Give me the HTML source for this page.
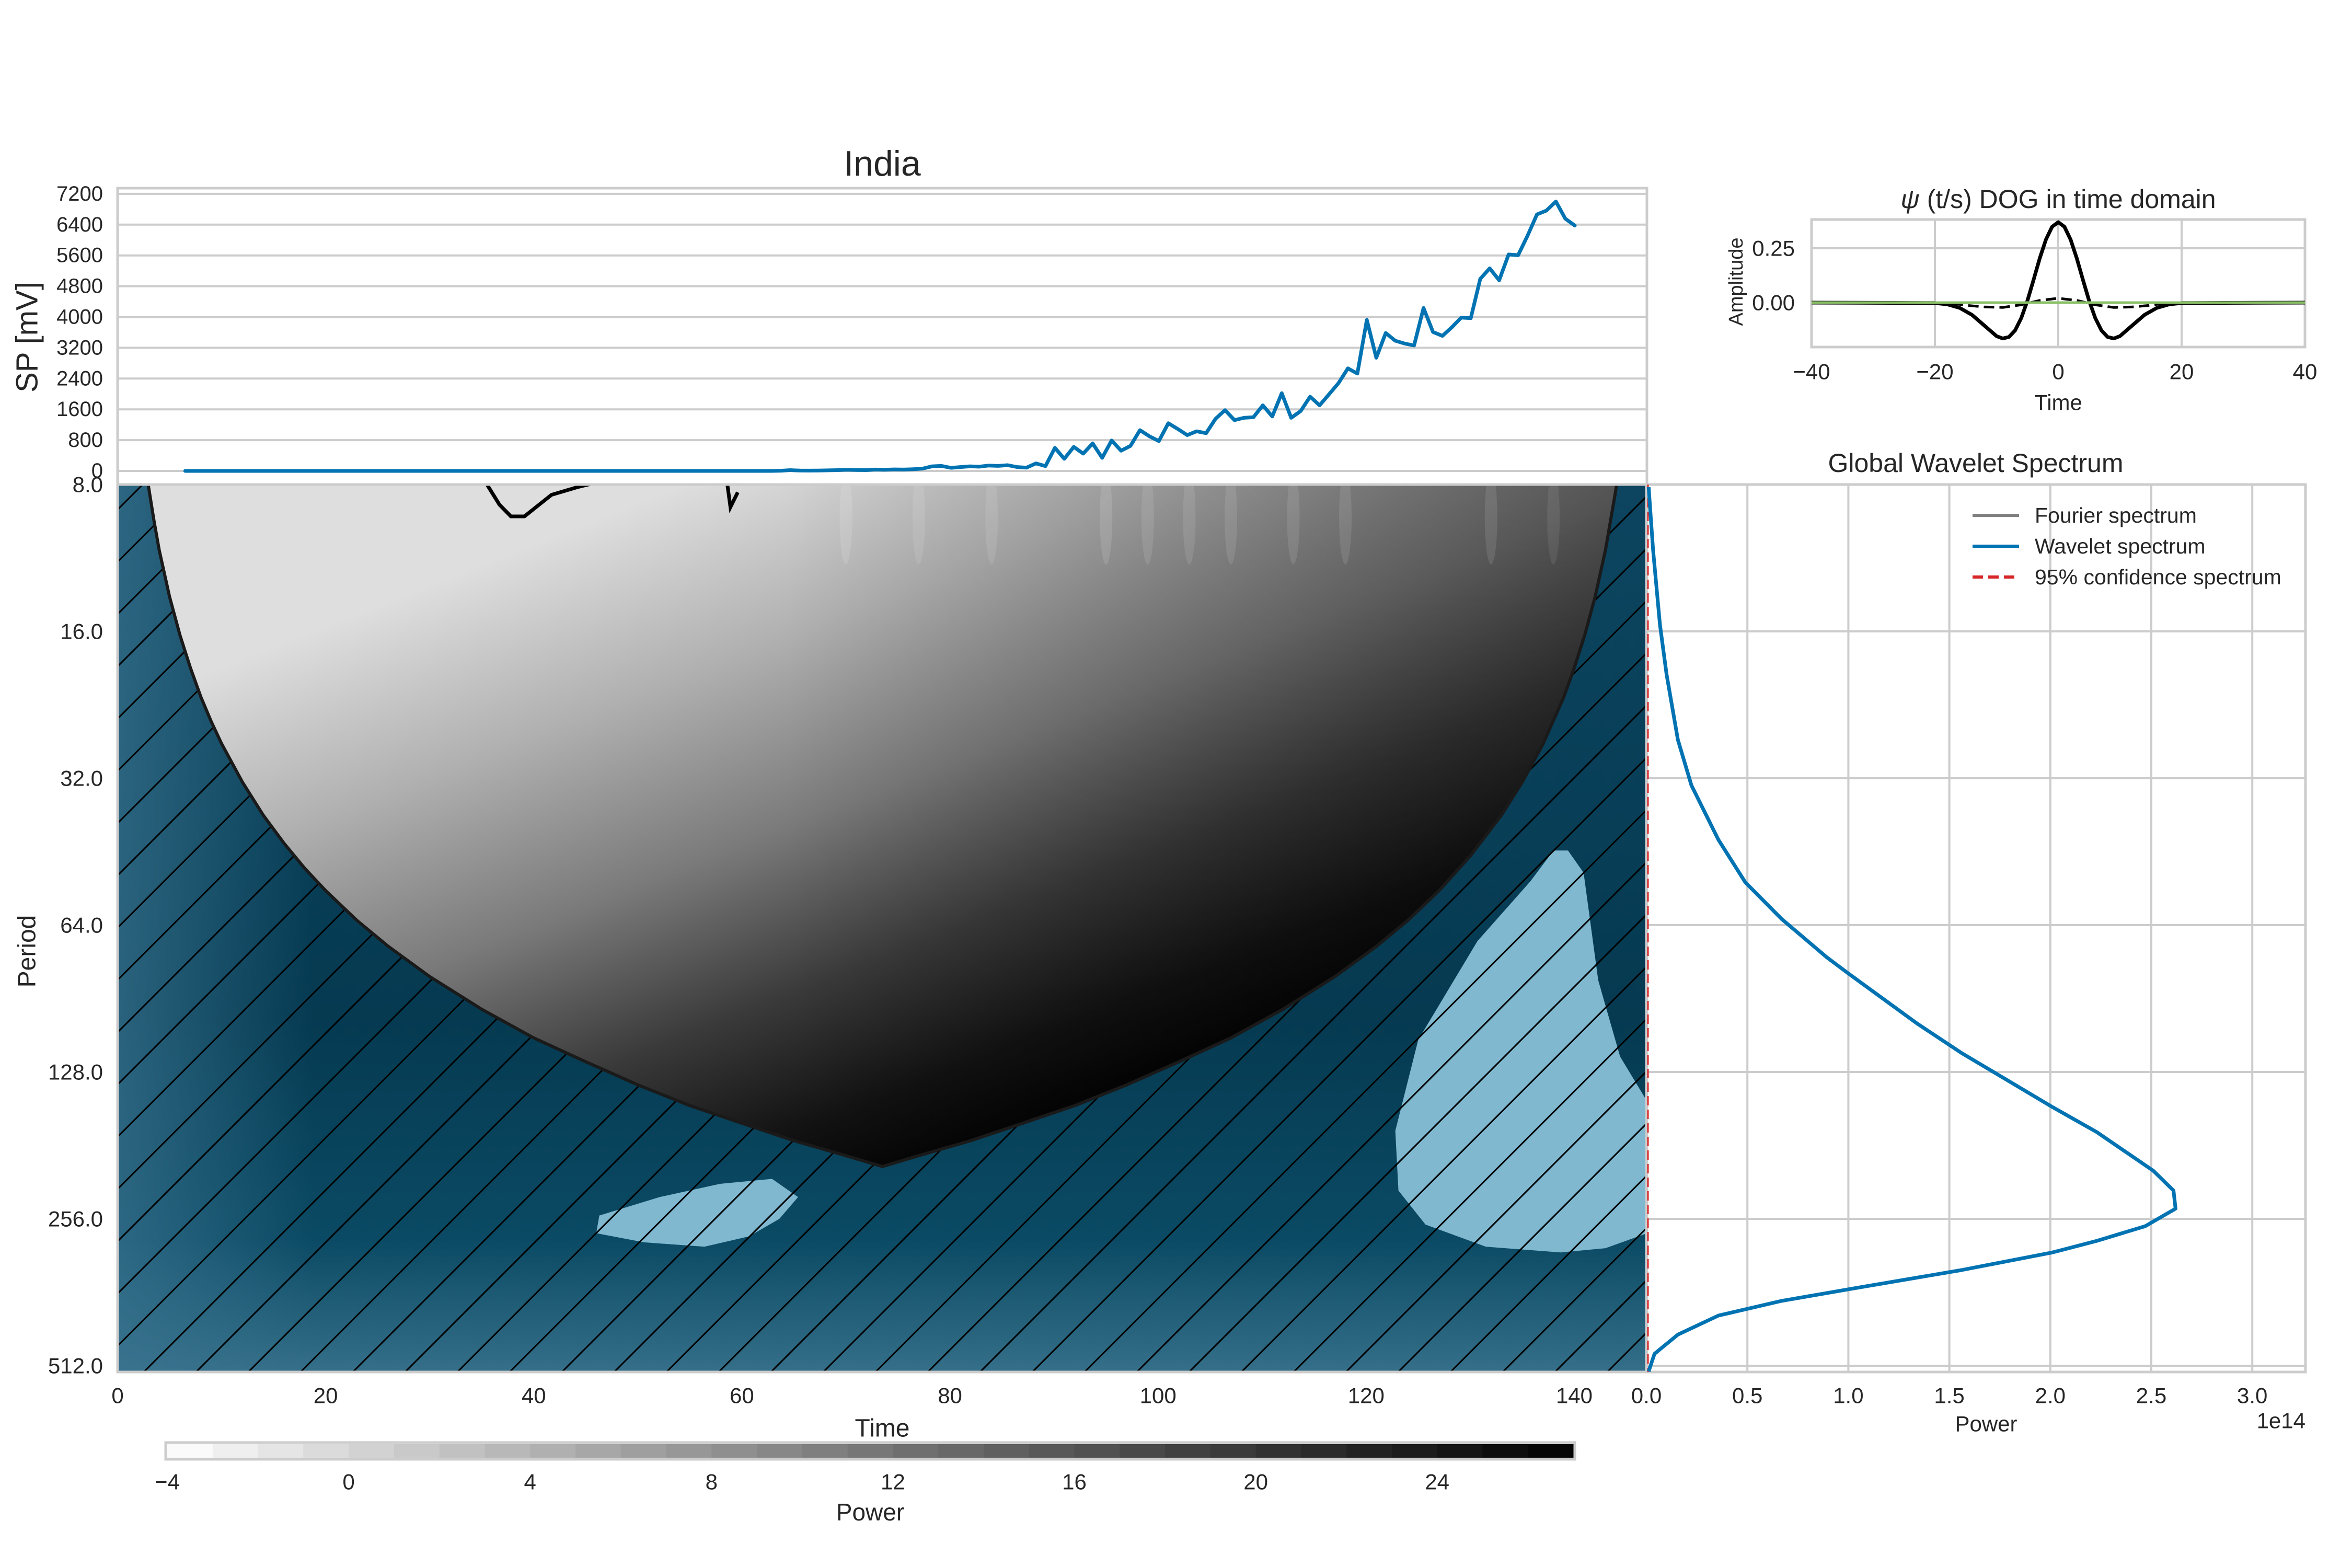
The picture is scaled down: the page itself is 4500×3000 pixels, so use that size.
<!DOCTYPE html>
<html><head><meta charset="utf-8"><style>
html,body{margin:0;padding:0;background:#fff;}
svg{display:block;font-family:"Liberation Sans",sans-serif;}
</style></head><body>
<svg id="fig" width="4500" height="3000" viewBox="0 0 4500 3000" xmlns="http://www.w3.org/2000/svg">
<defs>
<pattern id="hatch" patternUnits="userSpaceOnUse" width="100" height="100">
<path d="M-10,110 L110,-10 M-60,60 L60,-60 M40,160 L160,40" stroke="#000" stroke-width="3"/>
</pattern>
<linearGradient id="tealV" x1="0" y1="927" x2="0" y2="2625" gradientUnits="userSpaceOnUse">
<stop offset="0" stop-color="#0d4560"/><stop offset="0.6" stop-color="#053a51"/><stop offset="0.85" stop-color="#0b4a64"/><stop offset="1" stop-color="#356f89"/>
</linearGradient>
<linearGradient id="tealH" x1="225" y1="0" x2="600" y2="0" gradientUnits="userSpaceOnUse">
<stop offset="0" stop-color="#3a7490" stop-opacity="0.7"/><stop offset="1" stop-color="#3a7490" stop-opacity="0"/>
</linearGradient>
<linearGradient id="grayG" x1="1300" y1="930" x2="1800" y2="2200" gradientUnits="userSpaceOnUse">
<stop offset="0" stop-color="#dedede"/><stop offset="0.25" stop-color="#b0b0b0"/><stop offset="0.5" stop-color="#7a7a7a"/><stop offset="0.72" stop-color="#3a3a3a"/><stop offset="0.9" stop-color="#121212"/><stop offset="1" stop-color="#050505"/>
</linearGradient>
<linearGradient id="grayR" x1="1500" y1="0" x2="3100" y2="0" gradientUnits="userSpaceOnUse">
<stop offset="0" stop-color="#000" stop-opacity="0"/><stop offset="1" stop-color="#000" stop-opacity="0.33"/>
</linearGradient>
<clipPath id="mainClip"><rect x="225" y="927" width="2926" height="1698"/></clipPath>
</defs>
<g id="root"></g>
</svg>
<script>
// ---- data ----
var seriesValues = [0,0,0,0,0,0,0,0,0,0,0,0,0,0,0,0,0,0,0,0,0,0,0,0,0,0,0,0,0,0,0,0,0,0,0,0,0,0,0,0,0,0,0,0,0,0,0,0,0,0,0,0,0,0,0,0,0,0,0,0,0,0,0,5,20,10,8,10,15,20,30,25,20,35,30,40,35,45,60,120,130,80,100,120,110,140,130,150,
100,85,195,125,600,315,625,450,715,340,790,525,650,1060,900,775,1240,1090,930,1030,980,1355,1580,1320,1380,1395,1705,1415,2020,1380,1555,1930,1705,1990,2280,2665,2530,3925,2940,3585,3385,3310,3260,4235,3610,3510,3735,3985,3970,4990,5265,4955,5625,5605,6110,6665,6765,7000,6555,6375];
var seriesStart = 6.5, seriesStep = 0.9085;
var topTicks = [0,800,1600,2400,3200,4000,4800,5600,6400,7200];
var timeTicks = [0,20,40,60,80,100,120,140];
var periodTicks = [8,16,32,64,128,256,512];
var coiTimes = [0,1,2,2.9,3.5,4,5,6,7,8,9,10,12,14,16,18,20,23,26,30,35,40,45,50,55,60,65,70,73.5,77,82,87,92,97,102,107,112,117,121,124,127,130,133,135,137,139,140,141,142,143,144,144.1,145,146,147];
var coiPeriods = [1,2.7,5.4,7.9,9.5,10.9,13.6,16.3,19,21.8,24.5,27.2,32.6,38.1,43.5,49,54.4,62.6,70.7,81.6,95.2,109,122,136,150,163,177,190,200,190,177,163,150,136,122,109,95.2,81.6,70.7,62.6,54.4,46.2,38.1,32.6,27.2,21.8,19,16.3,13.6,10.9,8.2,7.9,5.4,2.7,1];
var blob1T = [46,46.3,52.1,57.9,62.9,65.4,63.6,60.7,56.4,50.6];
var blob1P = [274,252,231,217,212,231,256,278,292,286];
var blob2T = [139.4,140.9,142.3,144.4,147,147,143,138.7,131.5,125.7,123.1,122.8,125,130.7,135.8,138];
var blob2P = [45,50,83,119,147,274,294,300,292,263,224,169,110,69,52,45];
var contour1T = [35.5,36.7,37.8,39.1,41.7,44.2,46.3];
var contour1P = [8,8.8,9.3,9.3,8.4,8.1,7.9];
var contour2T = [58.6,58.9,59.6];
var contour2P = [8,8.9,8.3];
var gwsPeriods = [8.1,10.9,15.5,19.6,26.7,33.1,42.8,52.3,62.2,74.5,80.4,101.8,117,151,170,204,224,244,265,284,300,326,357,377,404,442,484,526];
var gwsPower = [0.011,0.033,0.067,0.10,0.156,0.223,0.357,0.49,0.67,0.893,1.0,1.34,1.56,2.01,2.23,2.51,2.61,2.62,2.47,2.23,2.01,1.56,1.0,0.67,0.357,0.156,0.04,0.011];
var gwsTicks = [0,0.5,1.0,1.5,2.0,2.5,3.0];
var dogT = [-40,-20,-18,-16,-14,-12,-10,-9,-8,-7,-6,-5,-4,-3,-2,-1,0,1,2,3,4,5,6,7,8,9,10,12,14,16,18,20,40];
var dogReal = [0,-0.002,-0.008,-0.024,-0.056,-0.105,-0.154,-0.165,-0.158,-0.128,-0.071,0.009,0.105,0.204,0.29,0.349,0.37,0.349,0.29,0.204,0.105,0.009,-0.071,-0.128,-0.158,-0.165,-0.154,-0.105,-0.056,-0.024,-0.008,-0.002,0];
var dogImagT = [-40,-18,-15,-12,-9,-6,-3,0,3,6,9,12,15,18,40];
var dogImag = [0,0,-0.012,-0.02,-0.022,-0.01,0.01,0.02,0.01,-0.01,-0.022,-0.02,-0.012,0,0];
var dogXTicks = [-40,-20,0,20,40];
var dogYTicks = [0.25,0.00];
var cbarTicks = [-4,0,4,8,12,16,20,24];
var cbarMin = -4, cbarMax = 27;

// ---- helpers ----
var NS = "http://www.w3.org/2000/svg";
var root = document.getElementById('root');
function el(tag, attrs, parent){ var e=document.createElementNS(NS,tag); for(var k in attrs) e.setAttribute(k,attrs[k]); (parent||root).appendChild(e); return e; }
function txt(s, x, y, size, anchor, parent, extra){ var t=el('text',{x:x,y:y,'font-size':size,'text-anchor':anchor||'middle','dominant-baseline':'central',fill:'#262626'},parent); if(extra) for(var k in extra) t.setAttribute(k,extra[k]); t.textContent=s; return t; }
function X(t){ return 225 + t*19.907; }
function YP(p){ return 927 + Math.log2(p/8)*281; }
function YT(v){ return 901 - v/800*58.9; }
function XG(P){ return 3150 + P*386.4; }
function XD(t){ return 3938 + t*11.8; }
function YD(a){ return 579 - a*416; }
function pathFrom(xs, ys, fx, fy, close){ var d=''; for(var i=0;i<xs.length;i++){ d+=(i?'L':'M')+fx(xs[i]).toFixed(1)+','+fy(ys[i]).toFixed(1); } return d+(close?'Z':''); }

// ---- title ----
var title = txt('India', 1688, 313, 68);



// ---- top series panel ----
var topG = el('g',{});


topTicks.forEach(function(v){
  var g = el('line',{x1:225,x2:3151,y1:YT(v),y2:YT(v),stroke:'#cccccc','stroke-width':4},topG);
  
  
  var l = txt(String(v), 197, YT(v), 40, 'end', topG);
  
  
});
var tb = el('rect',{x:225,y:360,width:2926,height:567,fill:'none',stroke:'#cccccc','stroke-width':5},topG);


var ts = seriesValues.map(function(_,i){ return seriesStart + i*seriesStep; });
var sl = el('path',{d:pathFrom(ts, seriesValues, X, YT), fill:'none', stroke:'#0173b2','stroke-width':7,'stroke-linejoin':'round','stroke-linecap':'round'},topG);


var spl = txt('SP [mV]', 52, 645, 58, 'middle', topG, {transform:'rotate(-90 52 645)'});



// ---- main wavelet panel ----
var mainG = el('g',{'clip-path':'url(#mainClip)'});


var bg1 = el('rect',{x:225,y:927,width:2926,height:1698,fill:'url(#tealV)'},mainG);


var bg2 = el('rect',{x:225,y:927,width:400,height:1698,fill:'url(#tealH)'},mainG);


var coiD = pathFrom(coiTimes, coiPeriods, X, YP, true);
var cone = el('path',{d:coiD, fill:'url(#grayG)'},mainG);


var cone2 = el('path',{d:coiD, fill:'url(#grayR)'},mainG);


[[70,0.12],[77,0.1],[84,0.1],[95,0.12],[99,0.1],[103,0.1],[107,0.1],[113,0.1],[118,0.1],[132,0.1],[138,0.08]].forEach(function(s){
  var e = el('ellipse',{cx:X(s[0]),cy:990,rx:12,ry:90,fill:'#ffffff','fill-opacity':s[1]},mainG);
  
  
});
var b1 = el('path',{d:pathFrom(blob1T, blob1P, X, YP, true), fill:'#80b8d0'},mainG);


var b2 = el('path',{d:pathFrom(blob2T, blob2P, X, YP, true), fill:'#80b8d0'},mainG);


var outside = 'M225,927 L3151,927 L3151,2625 L225,2625 Z ' + coiD;
var hatch = el('path',{d:outside, fill:'url(#hatch)','fill-rule':'evenodd'},mainG);


var coiLine = el('path',{d:pathFrom(coiTimes, coiPeriods, X, YP), fill:'none', stroke:'#1a1a1a','stroke-width':6,'stroke-linejoin':'round'},mainG);


var c1 = el('path',{d:pathFrom(contour1T, contour1P, X, YP), fill:'none', stroke:'#000','stroke-width':7},mainG);


var c2 = el('path',{d:pathFrom(contour2T, contour2P, X, YP), fill:'none', stroke:'#000','stroke-width':7},mainG);


var mf = el('rect',{x:225,y:927,width:2926,height:1698,fill:'none',stroke:'#cccccc','stroke-width':5});


timeTicks.forEach(function(t){
  var l = txt(String(t), X(t), 2670, 42, 'middle');
  
  
});
periodTicks.forEach(function(p){
  var l = txt(p.toFixed(1), 197, YP(p), 42, 'end');
  
  
});
var tl = txt('Time', 1688, 2733, 48);


var pl = txt('Period', 52, 1820, 48, 'middle', null, {transform:'rotate(-90 52 1820)'});



// ---- colorbar ----
var cbG = el('g',{});


var nLev = cbarMax - cbarMin, cx0 = 320, cw = (3010-320)/nLev;
for (var i=0;i<nLev;i++){
  var gv = Math.round(250 - Math.pow(i/(nLev-1),0.9)*244);
  var c = el('rect',{x:cx0+i*cw,y:2763,width:cw+0.8,height:26,fill:'rgb('+gv+','+gv+','+gv+')'},cbG);
  
  
}
var cbf = el('rect',{x:317,y:2760,width:2696,height:32,fill:'none',stroke:'#cccccc','stroke-width':5},cbG);


cbarTicks.forEach(function(v){
  var l = txt(v<0?'\u2212'+(-v):String(v), cx0+(v-cbarMin)*cw, 2835, 42, 'middle', cbG);
  
  
});
var cbl = txt('Power', 1665, 2893, 46, 'middle', cbG);



// ---- global wavelet spectrum ----
var gwG = el('g',{});


gwsTicks.forEach(function(P){
  var g = el('line',{x1:XG(P),x2:XG(P),y1:927,y2:2625,stroke:'#cccccc','stroke-width':4},gwG);
  
  
  var l = txt(P.toFixed(1), XG(P), 2670, 42, 'middle', gwG);
  
  
});
periodTicks.forEach(function(p){
  var g = el('line',{x1:3150,x2:4411,y1:YP(p),y2:YP(p),stroke:'#cccccc','stroke-width':4},gwG);
  
  
});
var gf = el('rect',{x:3150,y:927,width:1261,height:1698,fill:'none',stroke:'#cccccc','stroke-width':5},gwG);


var conf = el('line',{x1:3153,x2:3153,y1:927,y2:2625,stroke:'#d62728','stroke-width':3,'stroke-dasharray':'18,8'},gwG);


var gl = el('path',{d:pathFrom(gwsPower, gwsPeriods, XG, YP), fill:'none', stroke:'#0173b2','stroke-width':7,'stroke-linejoin':'round'},gwG);


var gt = txt('Global Wavelet Spectrum', 3780, 886, 50, 'middle', gwG);


var gx = txt('Power', 3800, 2724, 42, 'middle', gwG);


var ge = txt('1e14', 4411, 2718, 42, 'end', gwG);


var legItems = [['Fourier spectrum','#808080',''],['Wavelet spectrum','#0173b2',''],['95% confidence spectrum','#d62728','20,10']];
legItems.forEach(function(it, k){
  var y = 986 + k*59;
  var ln = el('line',{x1:3774,x2:3863,y1:y,y2:y,stroke:it[1],'stroke-width':6,'stroke-dasharray':it[2]||'none'},gwG);
  
  
  var lt = txt(it[0], 3893, y, 41, 'start', gwG);
  
  
});

// ---- DOG wavelet panel ----
var dgG = el('g',{});


dogXTicks.forEach(function(t){
  var g = el('line',{x1:XD(t),x2:XD(t),y1:420,y2:664,stroke:'#cccccc','stroke-width':4},dgG);
  
  
  var l = txt(t<0?'\u2212'+(-t):String(t), XD(t), 711, 42, 'middle', dgG);
  
  
});
dogYTicks.forEach(function(a){
  var g = el('line',{x1:3466,x2:4410,y1:YD(a),y2:YD(a),stroke:'#cccccc','stroke-width':4},dgG);
  
  
  var l = txt(a.toFixed(2), 3434, YD(a), 42, 'end', dgG);
  
  
});
var df = el('rect',{x:3466,y:420,width:944,height:244,fill:'none',stroke:'#cccccc','stroke-width':5},dgG);


var di = el('path',{d:pathFrom(dogImagT, dogImag, XD, YD), fill:'none', stroke:'#000','stroke-width':5,'stroke-dasharray':'20,10'},dgG);


var dr = el('path',{d:pathFrom(dogT, dogReal, XD, YD), fill:'none', stroke:'#000','stroke-width':7,'stroke-linejoin':'round'},dgG);


var dz = el('line',{x1:3466,x2:4410,y1:YD(0),y2:YD(0),stroke:'#8bc06a','stroke-width':5},dgG);


var dtt = el('text',{x:3938,y:381,'font-size':50,'text-anchor':'middle','dominant-baseline':'central',fill:'#262626'},dgG);


var psi = el('tspan',{'font-style':'italic'},dtt);
psi.textContent = '\u03c8';
var rest = el('tspan',{},dtt);
rest.textContent = ' (t/s) DOG in time domain';
var dtl = txt('Time', 3938, 770, 42, 'middle', dgG);


var dal = txt('Amplitude', 3322, 539, 38, 'middle', dgG, {transform:'rotate(-90 3322 539)'});


</script>
</body></html>
